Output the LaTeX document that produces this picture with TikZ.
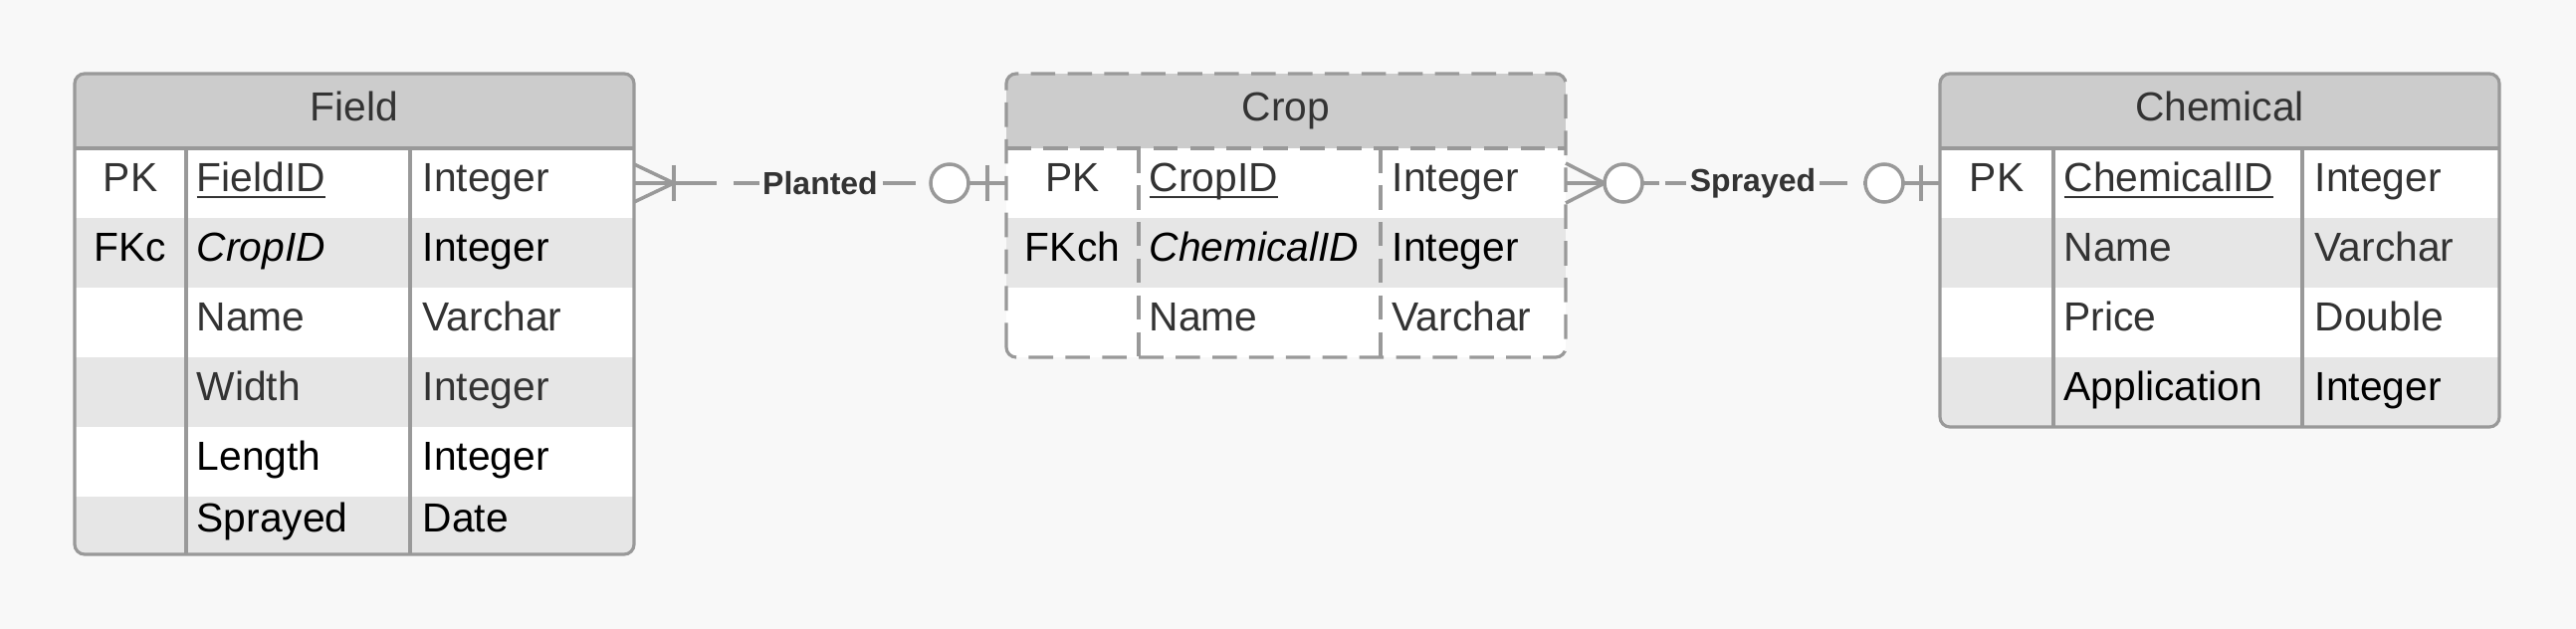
\documentclass[tikz,border=0pt]{standalone}
\usepackage{fontspec}
\setmainfont{Liberation Sans}
\definecolor{bgcol}{HTML}{F8F8F8}
\definecolor{hdrcol}{HTML}{CCCCCC}
\definecolor{altcol}{HTML}{E6E6E6}
\definecolor{edgecol}{HTML}{999999}
\definecolor{txtcol}{HTML}{333333}
% underlined primary key, line kept close to the baseline
\newcommand{\pkname}[1]{\setbox0=\hbox{#1}\rlap{\rule[-1.8pt]{\wd0}{0.8pt}}\box0}

\begin{document}
\begin{tikzpicture}[font=\fontsize{11.6}{13}\selectfont, text=txtcol,
    frame/.style={draw=edgecol, line width=0.9pt},
    rowbox/.style={minimum width=5.62cm, minimum height=0.7cm, inner sep=0pt, outer sep=0pt},
    title/.style={anchor=base, inner sep=0pt},
    keycell/.style={anchor=base, inner sep=0pt},
    namecell/.style={anchor=base west, inner sep=0pt},
    typecell/.style={anchor=base west, inner sep=0pt},
    link/.style={draw=edgecol, line width=1pt},
    linkdash/.style={link, dash pattern=on 9.4pt off 4.8pt},
    relname/.style={fill=bgcol, inner sep=1pt, font=\fontsize{9.1}{11}\selectfont\bfseries}]
    \useasboundingbox (0,0) rectangle (25.88,6.32);
    \fill[bgcol] (0,0) rectangle (25.88,6.32);

    % Field (left)
    \begin{scope}[xshift=0.75cm]
        \begin{scope}
            \clip[rounded corners=0.1cm] (0,0.75) rectangle (5.62,5.58);
            \fill[hdrcol] (0,4.83) rectangle (5.62,5.58);
            \node[rowbox, fill=white] (field1) at (2.81,4.48) {};
            \node[rowbox, fill=altcol] (field2) at (2.81,3.78) {};
            \node[rowbox, fill=white] (field3) at (2.81,3.08) {};
            \node[rowbox, fill=altcol] (field4) at (2.81,2.38) {};
            \node[rowbox, fill=white] (field5) at (2.81,1.68) {};
            \node[rowbox, fill=altcol, minimum height=0.58cm] (field6) at (2.81,1.04) {};
        \end{scope}
        \draw[frame, rounded corners=0.1cm] (0,0.75) rectangle (5.62,5.58);
        \draw[frame] (0,4.83) -- (5.62,4.83);
        \draw[frame] (1.12,4.83) -- (1.12,0.75);
        \draw[frame] (3.37,4.83) -- (3.37,0.75);

        \node[title] (fieldT) at (2.81,5.10) {Field};
        \node[keycell] (fieldK1) at (0.56,4.39) {PK};
        \node[namecell] (fieldN1) at (1.22,4.39) {\pkname{FieldID}};
        \node[typecell] (fieldY1) at (3.49,4.39) {Integer};
        \node[keycell, text=black] (fieldK2) at (0.56,3.69) {FKc};
        \node[namecell, text=black] (fieldN2) at (1.22,3.69) {\textit{CropID}};
        \node[typecell, text=black] (fieldY2) at (3.49,3.69) {Integer};
        \node[namecell] (fieldN3) at (1.22,2.99) {Name};
        \node[typecell] (fieldY3) at (3.49,2.99) {Varchar};
        \node[namecell] (fieldN4) at (1.22,2.29) {Width};
        \node[typecell] (fieldY4) at (3.49,2.29) {Integer};
        \node[namecell, text=black] (fieldN5) at (1.22,1.59) {Length};
        \node[typecell, text=black] (fieldY5) at (3.49,1.59) {Integer};
        \node[namecell, text=black] (fieldN6) at (1.22,0.97) {Sprayed};
        \node[typecell, text=black] (fieldY6) at (3.49,0.97) {Date};
    \end{scope}

    % Crop (middle, dashed)
    \begin{scope}[xshift=10.11cm]
        \begin{scope}
            \clip[rounded corners=0.1cm] (0,2.73) rectangle (5.62,5.58);
            \fill[hdrcol] (0,4.83) rectangle (5.62,5.58);
            \node[rowbox, fill=white] (crop1) at (2.81,4.48) {};
            \node[rowbox, fill=altcol] (crop2) at (2.81,3.78) {};
            \node[rowbox, fill=white] (crop3) at (2.81,3.08) {};
        \end{scope}
        \draw[frame, dash pattern=on 7pt off 3.5pt, rounded corners=0.1cm] (0,2.73) rectangle (5.62,5.58);
        \draw[frame, dash pattern=on 7pt off 3.5pt] (0,4.83) -- (5.62,4.83);
        \draw[frame, dash pattern=on 7pt off 3.5pt] (1.33,4.83) -- (1.33,2.73);
        \draw[frame, dash pattern=on 7pt off 3.5pt] (3.76,4.83) -- (3.76,2.73);

        \node[title] (cropT) at (2.81,5.10) {Crop};
        \node[keycell] (cropK1) at (0.665,4.39) {PK};
        \node[namecell] (cropN1) at (1.43,4.39) {\pkname{CropID}};
        \node[typecell] (cropY1) at (3.87,4.39) {Integer};
        \node[keycell, text=black] (cropK2) at (0.665,3.69) {FKch};
        \node[namecell, text=black] (cropN2) at (1.43,3.69) {\textit{ChemicalID}};
        \node[typecell, text=black] (cropY2) at (3.87,3.69) {Integer};
        \node[namecell] (cropN3) at (1.43,2.99) {Name};
        \node[typecell] (cropY3) at (3.87,2.99) {Varchar};
    \end{scope}

    % Chemical (right)
    \begin{scope}[xshift=19.49cm]
        \begin{scope}
            \clip[rounded corners=0.1cm] (0,2.03) rectangle (5.62,5.58);
            \fill[hdrcol] (0,4.83) rectangle (5.62,5.58);
            \node[rowbox, fill=white] (chem1) at (2.81,4.48) {};
            \node[rowbox, fill=altcol] (chem2) at (2.81,3.78) {};
            \node[rowbox, fill=white] (chem3) at (2.81,3.08) {};
            \node[rowbox, fill=altcol] (chem4) at (2.81,2.38) {};
        \end{scope}
        \draw[frame, rounded corners=0.1cm] (0,2.03) rectangle (5.62,5.58);
        \draw[frame] (0,4.83) -- (5.62,4.83);
        \draw[frame] (1.14,4.83) -- (1.14,2.03);
        \draw[frame] (3.64,4.83) -- (3.64,2.03);

        \node[title] (chemT) at (2.81,5.10) {Chemical};
        \node[keycell] (chemK1) at (0.57,4.39) {PK};
        \node[namecell] (chemN1) at (1.24,4.39) {\pkname{ChemicalID}};
        \node[typecell] (chemY1) at (3.76,4.39) {Integer};
        \node[namecell] (chemN2) at (1.24,3.69) {Name};
        \node[typecell] (chemY2) at (3.76,3.69) {Varchar};
        \node[namecell] (chemN3) at (1.24,2.99) {Price};
        \node[typecell] (chemY3) at (3.76,2.99) {Double};
        \node[namecell, text=black] (chemN4) at (1.24,2.29) {Application};
        \node[typecell, text=black] (chemY4) at (3.76,2.29) {Integer};
    \end{scope}

    % Planted: one or many fields, zero or one crop
    \draw[linkdash] (field1.east) -- node[relname] (planted) {Planted} (crop1.west);
    \draw[link] (field1.east) -- ++(0.56,0);
    \draw[link] (field1.east) ++(0,0.19) -- ++(0.40,-0.19) -- ++(-0.40,-0.19);
    \draw[link] (field1.east) ++(0.40,0.18) -- ++(0,-0.36);
    \draw[link] (crop1.west) -- ++(-0.38,0);
    \draw[link] (crop1.west) ++(-0.19,0.18) -- ++(0,-0.36);
    \draw[link, fill=white] (crop1.west) ++(-0.57,0) circle (0.19);

    % Sprayed: zero or many crops, zero or one chemical
    \draw[linkdash] (crop1.east) -- node[relname] (sprayed) {Sprayed} (chem1.west);
    \draw[link] (crop1.east) -- ++(0.94,0);
    \draw[link] (crop1.east) ++(0,0.20) -- ++(0.39,-0.20) -- ++(-0.39,-0.20);
    \draw[link, fill=white] (crop1.east) ++(0.58,0) circle (0.19);
    \draw[link] (chem1.west) -- ++(-0.37,0);
    \draw[link] (chem1.west) ++(-0.19,0.18) -- ++(0,-0.36);
    \draw[link, fill=white] (chem1.west) ++(-0.56,0) circle (0.19);
\end{tikzpicture}
\end{document}
